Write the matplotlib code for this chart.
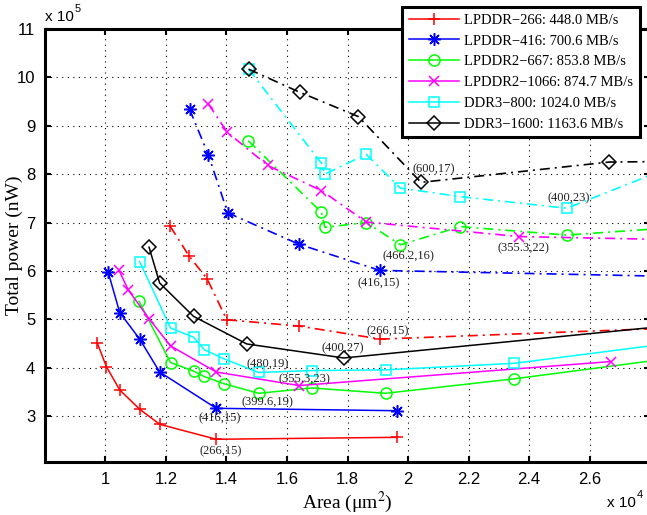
import matplotlib
matplotlib.use("Agg")
import matplotlib.pyplot as plt

# ---- data (area in 1e4 um^2, power in 1e5 nW) ----
# solid lines
r_solid_x = [0.973, 1.003, 1.047, 1.113, 1.179, 1.366, 1.965]
r_solid_y = [4.506, 4.02, 3.54, 3.14, 2.83, 2.52, 2.56]
b_solid_x = [1.009, 1.047, 1.113, 1.179, 1.366, 1.965]
b_solid_y = [5.97, 5.14, 4.59, 3.91, 3.16, 3.11]
g_solid_x = [1.111, 1.215, 1.291, 1.325, 1.393, 1.506, 1.682, 1.926, 2.352, 3.0]
g_solid_y = [5.37, 4.105, 3.93, 3.82, 3.665, 3.47, 3.58, 3.47, 3.77, 4.30]
m_solid_x = [1.044, 1.075, 1.144, 1.215, 1.366, 1.640, 2.670]
m_solid_y = [6.02, 5.61, 5.01, 4.45, 3.91, 3.63, 4.126]
c_solid_x = [1.113, 1.215, 1.291, 1.327, 1.393, 1.506, 1.682, 1.928, 2.352, 3.0]
c_solid_y = [6.19, 4.82, 4.63, 4.37, 4.18, 3.90, 3.94, 3.955, 4.09, 4.61]
k_solid_x = [1.144, 1.179, 1.291, 1.467, 1.788, 3.0]
k_solid_y = [6.49, 5.75, 5.06, 4.49, 4.20, 4.95]

# dash-dot lines
r_dd_x = [1.214, 1.276, 1.336, 1.401, 1.640, 1.909, 3.0]
r_dd_y = [6.92, 6.31, 5.835, 4.99, 4.86, 4.59, 4.85]
b_dd_x = [1.278, 1.340, 1.404, 1.640, 1.907, 3.0]
b_dd_y = [9.34, 8.40, 7.20, 6.55, 6.01, 5.87]
g_dd_x = [1.472, 1.714, 1.725, 1.862, 1.975, 2.173, 2.525, 3.0]
g_dd_y = [8.69, 7.21, 6.90, 7.0, 6.54, 6.915, 6.74, 6.95]
m_dd_x = [1.340, 1.402, 1.536, 1.714, 1.862, 2.367, 3.0]
m_dd_y = [9.45, 8.87, 8.18, 7.66, 7.01, 6.71, 6.63]
c_dd_x = [1.473, 1.714, 1.725, 1.862, 1.975, 2.173, 2.525, 3.0]
c_dd_y = [10.17, 8.225, 8.0, 8.41, 7.71, 7.535, 7.295, 8.47]
k_dd_x = [1.473, 1.643, 1.836, 2.043, 2.665, 3.0]
k_dd_y = [10.17, 9.69, 9.19, 7.83, 8.25, 8.27]

labels = ["LPDDR\u2212266: 448.0 MB/s", "LPDDR\u2212416: 700.6 MB/s",
          "LPDDR2\u2212667: 853.8 MB/s", "LPDDR2\u22121066: 874.7 MB/s",
          "DDR3\u2212800: 1024.0 MB/s", "DDR3\u22121600: 1163.6 MB/s"]

ann_text = ["(266,15)", "(416,15)", "(399.6,19)", "(355.3,23)", "(480,19)", "(400,27)",
            "(266,15)", "(416,15)", "(466.2,16)", "(355.3,22)", "(400,23)", "(600,17)"]
ann_x = [1.382, 1.376, 1.534, 1.659, 1.537, 1.783, 1.932, 1.904, 2.00, 2.383, 2.531, 2.084]
ann_y = [2.267, 2.956, 3.28, 3.75, 4.08, 4.40, 4.75, 5.75, 6.30, 6.47, 7.51, 8.10]

xticks = [1, 1.2, 1.4, 1.6, 1.8, 2, 2.2, 2.4, 2.6]
xticklabels = ["1", "1.2", "1.4", "1.6", "1.8", "2", "2.2", "2.4", "2.6"]
yticks = [3, 4, 5, 6, 7, 8, 9, 10, 11]
yticklabels = ["3", "4", "5", "6", "7", "8", "9", "10", "11"]

plt.rcParams["mathtext.fontset"] = "stix"

W, H = 647, 515
fig = plt.figure(figsize=(W / 100, H / 100), dpi=100)
L, R, T, B = 45, 650, 29, 462
ax = fig.add_axes([L / W, 1 - B / H, (R - L) / W, (B - T) / H])

dd = (0, (6, 3, 1.2, 3))
series = [
    ("red", "+", 9, r_solid_x, r_solid_y, r_dd_x, r_dd_y),
    ("blue", (8, 2, 0), 9, b_solid_x, b_solid_y, b_dd_x, b_dd_y),
    ("#00ff00", "o", 8, g_solid_x, g_solid_y, g_dd_x, g_dd_y),
    ("magenta", "x", 7, m_solid_x, m_solid_y, m_dd_x, m_dd_y),
    ("cyan", "s", 7, c_solid_x, c_solid_y, c_dd_x, c_dd_y),
    ("black", "D", 7, k_solid_x, k_solid_y, k_dd_x, k_dd_y),
]
handles = []
for (col, mk, ms, sx, sy, dx, dy), lab in zip(series, labels):
    h, = ax.plot(sx, sy, color=col, lw=1.1, marker=mk, ms=ms, mfc="none",
                 mec=col, mew=1.1, label=lab)
    ax.plot(dx, dy, color=col, lw=1.2, linestyle=dd, marker=mk, ms=ms,
            mfc="none", mec=col, mew=1.1)
    handles.append(h)

for t, x, y in zip(ann_text, ann_x, ann_y):
    ax.text(x, y, t, ha="center", va="center", fontsize=9,
            family="Liberation Serif", color="#222222")

ax.set_xlim(0.8, 2.8)
ax.set_ylim(2.05, 11)
ax.set_xticks(xticks)
ax.set_xticklabels(xticklabels)
ax.set_yticks(yticks)
ax.set_yticklabels(yticklabels)
ax.grid(True, color="black", linestyle=(0, (1, 4)), linewidth=0.8)
ax.tick_params(direction="in", length=4, width=1.5, top=True, right=True,
               labelsize=12, pad=7)
for lbl in ax.get_xticklabels() + ax.get_yticklabels():
    lbl.set_family("Liberation Sans")
for s in ax.spines.values():
    s.set_linewidth(2.2)

ax.set_xlabel("Area (\u03bcm$^2$)", family="Liberation Serif", fontsize=14)
ax.xaxis.set_label_coords(0.5, -(490 - B) / (B - T))
ax.set_ylabel("Total power (nW)", family="Liberation Serif", fontsize=14)
ax.yaxis.set_label_coords((23 - L) / (R - L), 0.5)

fig.text(45 / W, 1 - 17 / H, "x 10", family="Liberation Sans", fontsize=11,
         ha="left", va="center")
fig.text(75 / W, 1 - 9 / H, "5", family="Liberation Sans", fontsize=8,
         ha="left", va="center")
fig.text(607 / W, 1 - 503 / H, "x 10", family="Liberation Sans", fontsize=11,
         ha="left", va="center")
fig.text(637 / W, 1 - 495 / H, "4", family="Liberation Sans", fontsize=8,
         ha="left", va="center")

leg = fig.legend(handles=handles, loc="upper right",
                 bbox_to_anchor=(640 / W, 1 - 7 / H), borderaxespad=0,
                 prop={"family": "Liberation Serif", "size": 10.5},
                 handlelength=3.4, handletextpad=0.4, labelspacing=0.52,
                 borderpad=0.45, fancybox=False, framealpha=1,
                 edgecolor="black")
leg.get_frame().set_linewidth(2.2)
leg.set_zorder(10)

fig.savefig("out.png", dpi=100)
